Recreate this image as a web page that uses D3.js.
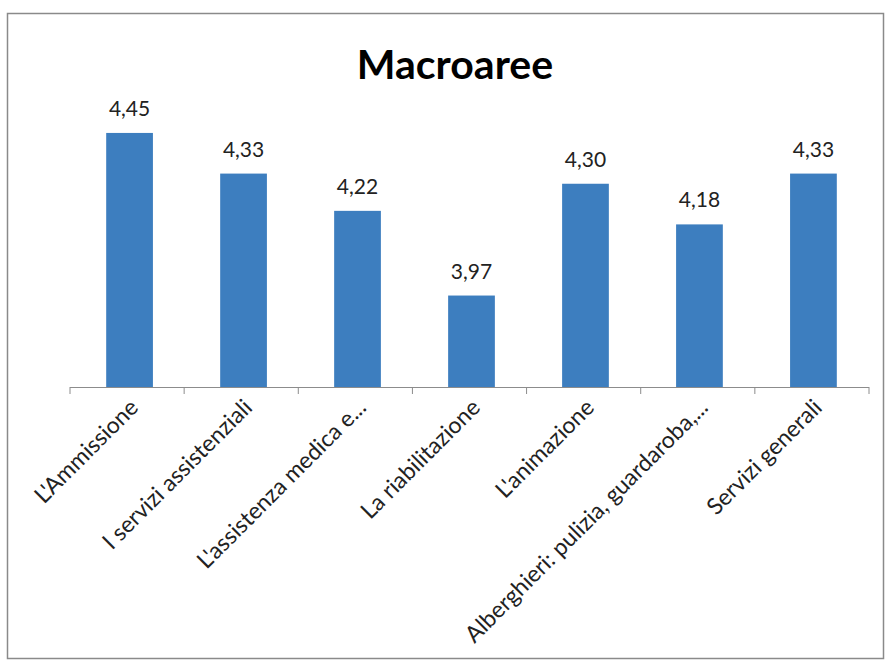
<!DOCTYPE html>
<html>
<head>
<meta charset="utf-8">
<script src="https://cdn.jsdelivr.net/npm/d3@7"></script>
<style>
  body { margin: 0; background: #fff; }
  svg text { font-family: Lato, "Open Sans", sans-serif; fill: #222; }
</style>
</head>
<body>
<div id="viz"></div>
<script>
var title = "Macroaree";
var categories = ["L'Ammissione", "I servizi assistenziali", "L'assistenza medica e...",
    "La riabilitazione", "L'animazione", "Alberghieri: pulizia, guardaroba,...", "Servizi generali"];
var values = [4.45, 4.33, 4.22, 3.97, 4.30, 4.18, 4.33];
var yDomain = [3.7, 4.5];

var width = 886, height = 663;
var plotLeft = 70, plotRight = 869, plotTop = 116, plotBottom = 387;

var svg = d3.select("#viz")
    .append("svg")
    .attr("width", width)
    .attr("height", height);

// frame
svg.append("rect")
    .attr("x", 7.5).attr("y", 13.5)
    .attr("width", 876).attr("height", 645)
    .style("fill", "white")
    .style("stroke", "#8a8a8a")
    .style("stroke-width", 1.5);

svg.append("text")
    .attr("x", 455).attr("y", 79)
    .attr("text-anchor", "middle")
    .style("font-size", "41px")
    .style("font-weight", "bold")
    .style("fill", "#000")
    .text(title);

var x = d3.scaleBand()
    .domain(categories)
    .range([plotLeft, plotRight])
    .paddingInner(0.59)
    .paddingOuter(0.3);

var y = d3.scaleLinear()
    .domain(yDomain)
    .range([plotBottom, plotTop]);

svg.selectAll("rect.bar")
    .data(values)
    .enter().append("rect")
    .attr("class", "bar")
    .attr("x", function(d, i){ return x(categories[i]) + 2; })
    .attr("y", function(d){ return y(d); })
    .attr("width", x.bandwidth())
    .attr("height", function(d){ return y(yDomain[0]) - y(d); })
    .style("fill", "#3d7ebf");

svg.selectAll("text.val")
    .data(values)
    .enter().append("text")
    .attr("class", "val")
    .attr("x", function(d, i){ return x(categories[i]) + 2 + x.bandwidth() / 2; })
    .attr("y", function(d){ return y(d) - 17; })
    .attr("text-anchor", "middle")
    .style("font-size", "21px")
    .text(function(d){ return d3.format(".2f")(d).replace(".", ","); });

// axis line and boundary ticks
var bounds = d3.range(categories.length + 1).map(function(i){ return plotLeft + i * (plotRight - plotLeft) / categories.length; });

svg.append("line")
    .attr("x1", plotLeft).attr("x2", plotRight)
    .attr("y1", plotBottom + 0.5).attr("y2", plotBottom + 0.5)
    .style("stroke", "#8c8c8c");

svg.selectAll("line.tick")
    .data(bounds)
    .enter().append("line")
    .attr("class", "tick")
    .attr("x1", function(d){ return d; }).attr("x2", function(d){ return d; })
    .attr("y1", plotBottom).attr("y2", plotBottom + 7)
    .style("stroke", "#8c8c8c");

svg.selectAll("text.cat")
    .data(categories)
    .enter().append("text")
    .attr("class", "cat")
    .attr("text-anchor", "end")
    .attr("transform", function(d){
        var cx = x(d) + x.bandwidth() / 2 + 12;
        return "translate(" + cx + "," + (plotBottom + 22) + ") rotate(-45)";
    })
    .style("font-size", "23px")
    .text(function(d){ return d; });
</script>
</body>
</html>
